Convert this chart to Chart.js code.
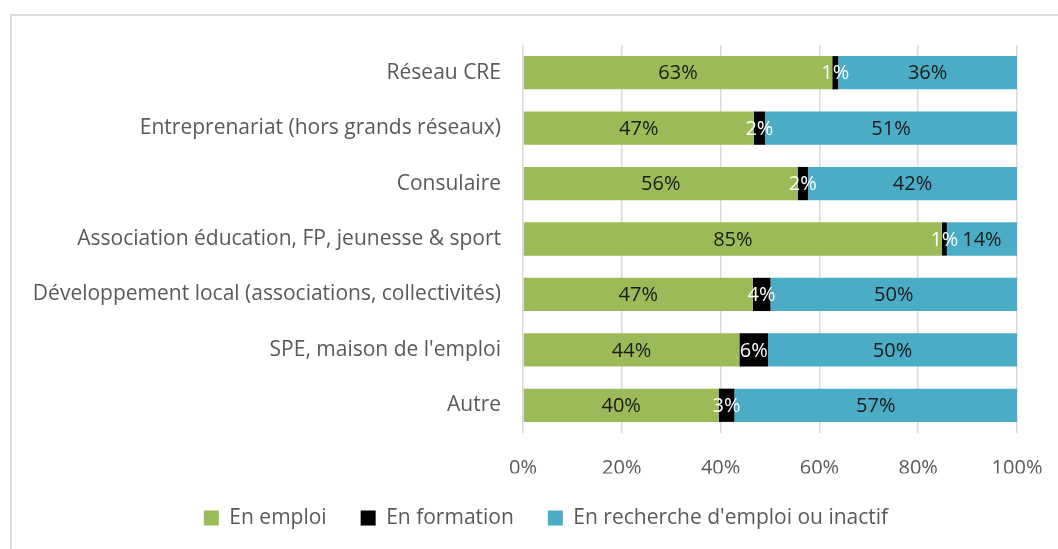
<!DOCTYPE html>
<html>
<head>
<meta charset="utf-8">
<script src="https://cdn.jsdelivr.net/npm/chart.js@4"></script>
<style>
  html, body { margin: 0; padding: 0; background: #fff; overflow: hidden; }
  #frame { position: absolute; left: 10px; top: 14px; width: 2000px; height: 2000px; border: 2px solid #dcdcdc; box-sizing: border-box; }
  #wrap { position: absolute; left: 0; top: 0; width: 1058px; height: 549px; }
</style>
</head>
<body>
<div id="frame"></div>
<div id="wrap"><canvas id="chart"></canvas></div>
<script>
const categories = [
  'Réseau CRE',
  'Entreprenariat (hors grands réseaux)',
  'Consulaire',
  'Association éducation, FP, jeunesse & sport',
  'Développement local (associations, collectivités)',
  "SPE, maison de l'emploi",
  'Autre'
]
const enEmploi = [62.6, 46.7, 55.6, 84.8, 46.5, 43.8, 39.6]
const enFormation = [1.2, 2.3, 2.1, 1.0, 3.6, 5.8, 3.2]
const enRecherche = [36.2, 51.0, 42.3, 14.2, 49.9, 50.4, 57.2]
const xTicks = [0, 20, 40, 60, 80, 100]

const FONT = '"Open Sans", Lato, sans-serif'
const labelColors = ['#1a1a1a', '#ffffff', '#1a1a1a']

const barLabels = {
  id: 'barLabels',
  afterDatasetsDraw(chart) {
    const ctx = chart.ctx
    ctx.save()
    ctx.font = '20px ' + FONT
    ctx.textAlign = 'center'
    ctx.textBaseline = 'middle'
    chart.data.datasets.forEach((ds, i) => {
      const meta = chart.getDatasetMeta(i)
      meta.data.forEach((bar, j) => {
        ctx.fillStyle = labelColors[i]
        ctx.fillText(Math.round(ds.data[j]) + '%', (bar.x + bar.base) / 2, bar.y + 1)
      })
    })
    ctx.restore()
  }
}

// legend sits a bit right of the canvas centre in the original
const legendShift = {
  id: 'legendShift',
  afterLayout(chart) {
    chart.legend.left += 22.5
    chart.legend.right += 22.5
  }
}

let ctx = document.getElementById('chart').getContext('2d')

new Chart(ctx, {
  type: 'bar',
  data: {
    labels: categories,
    datasets: [
      { label: 'En emploi', data: enEmploi, backgroundColor: '#9bbb59' },
      { label: 'En formation', data: enFormation, backgroundColor: '#000000' },
      { label: "En recherche d'emploi ou inactif", data: enRecherche, backgroundColor: '#4bacc6' }
    ]
  },
  options: {
    indexAxis: 'y',
    responsive: true,
    maintainAspectRatio: false,
    animation: false,
    categoryPercentage: 1,
    barPercentage: 0.6,
    layout: { padding: { top: 45, right: 41, bottom: 10.5, left: 30 } },
    scales: {
      x: {
        stacked: true,
        min: 0,
        max: 100,
        afterBuildTicks(scale) { scale.ticks = xTicks.map(v => ({ value: v })) },
        afterFit(scale) {
          scale.height = 40.5
          scale.paddingLeft = 0
          scale.paddingRight = 0
        },
        grid: { color: '#d9d9d9', lineWidth: 1.5, drawTicks: false },
        border: { display: false },
        ticks: {
          padding: 23,
          color: '#595959',
          font: { family: FONT, size: 20 },
          callback: v => v + '%'
        }
      },
      y: {
        stacked: true,
        grid: { display: false, drawTicks: false },
        border: { display: false },
        afterFit(scale) { scale.width = 493 },
        ticks: {
          padding: 22,
          color: '#595959',
          font: { family: FONT, size: 21 }
        }
      }
    },
    plugins: {
      legend: {
        position: 'bottom',
        labels: {
          boxWidth: 15,
          boxHeight: 15,
          padding: 34,
          color: '#595959',
          font: { family: FONT, size: 21 }
        }
      },
      tooltip: { enabled: false }
    }
  },
  plugins: [barLabels, legendShift]
})
</script>
</body>
</html>
